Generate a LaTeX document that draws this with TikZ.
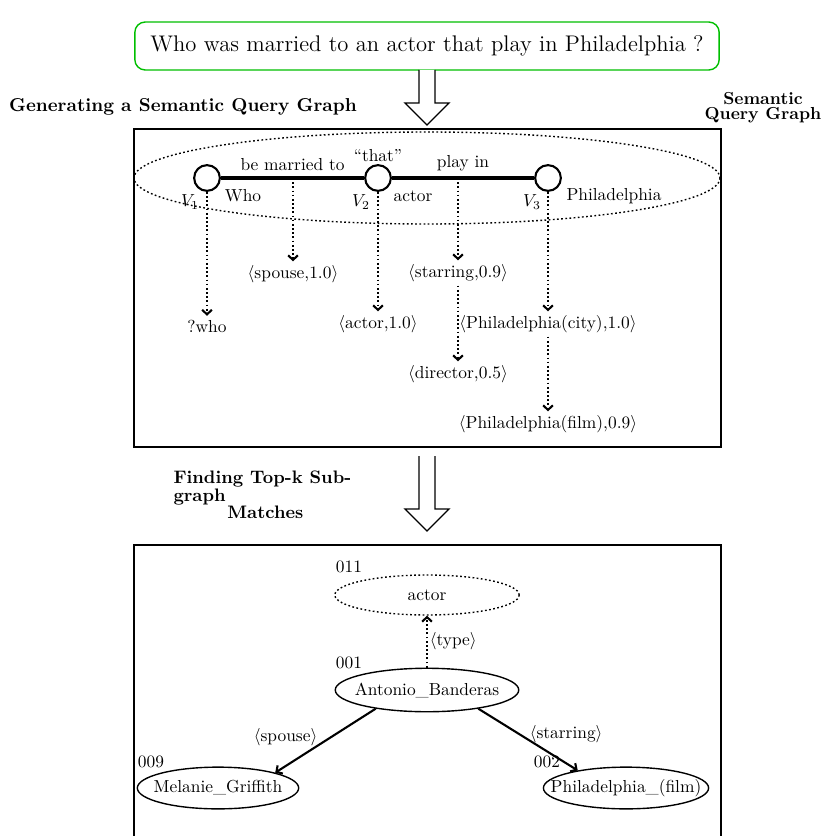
\documentclass[tikz,border=0pt]{standalone}
\usetikzlibrary{shapes.geometric,arrows.meta}

\tikzstyle{var}=[circle,draw,very thick,fill=white,inner sep=0pt,minimum size=5.2mm]
\tikzstyle{rel}=[line width=2.3pt]
\tikzstyle{dots}=[dash pattern=on 1pt off 1.4pt]
\tikzstyle{cand}=[->,very thick,dots]
\tikzstyle{ent}=[ellipse,draw,thick,inner xsep=-4.2pt,inner ysep=1pt,minimum height=24pt]
\tikzstyle{hollow}=[draw,thick,fill=white]

\begin{document}
\begin{tikzpicture}[x=0.575pt,y=-0.575pt,semithick,inner sep=2pt,>={Straight Barb[length=2.6pt,width=5.6pt]}]
\useasboundingbox (0,0) rectangle (827,836);
%\draw[help lines,step=50] (0,0) grid (827,836);
% question
\node[draw=green!75!black,thick,rounded corners=6pt,minimum width=336pt,minimum height=27.6pt,font=\fontsize{13}{15}\selectfont] (q) at (427,46) {Who was married to an actor that play in Philadelphia ?};
\draw[hollow] (419,70) -- (419,103) -- (405,103) -- (427,125) -- (449,103) -- (435,103) -- (435,70);
\node[font=\fontsize{10.75}{12}\selectfont\bfseries] (t1) at (183,107) {Generating a Semantic Query Graph};
\node[font=\fontsize{10}{8.6}\selectfont\bfseries,align=center,inner sep=0pt] (t2) at (763,108) {Semantic\\Query Graph};

% semantic query graph
\draw[thick] (134,129) rectangle (721,447);
\draw[thick,dots] (427,178) ellipse [x radius=293, y radius=46];
\node[var] (v1) at (207,178) {};
\node[var,label={[inner sep=1pt]above:``that''}] (v2) at (378,178) {};
\node[var] (v3) at (548,178) {};
\path
(v1) edge[rel] node[above=1pt] {be married to} (v2)
(v2) edge[rel] node[above=1pt] {play in} (v3);
\node (l1) at (190,202) {$V_1$};
\node (l2) at (361,202) {$V_2$};
\node (l3) at (532,202) {$V_3$};
\node (w1) at (243,196) {Who};
\node (w2) at (413,196) {actor};
\node (w3) at (614,196) {Philadelphia};
\coordinate (e1) at (293,178);
\coordinate (e2) at (458,178);
\node (who)      at (207,326) {?who};
\node (spouse)   at (293,274) {$\langle$spouse,1.0$\rangle$};
\node (actor)    at (378,324) {$\langle$actor,1.0$\rangle$};
\node (starring) at (458,273) {$\langle$starring,0.9$\rangle$};
\node (director) at (458,374) {$\langle$director,0.5$\rangle$};
\node (city)     at (548,324) {$\langle$Philadelphia(city),1.0$\rangle$};
\node (film)     at (548,424) {$\langle$Philadelphia(film),0.9$\rangle$};
\draw[cand] (v1) -- (who);
\draw[cand] (e1) -- (spouse);
\draw[cand] (v2) -- (actor);
\draw[cand] (e2) -- (starring);
\draw[cand] (starring.south -| e2) -- (director.north -| e2);
\draw[cand] (v3) -- (city);
\draw[cand] (city.south -| v3) -- (film.north -| v3);

\draw[hollow] (419,456) -- (419,509) -- (405,509) -- (427,531) -- (449,509) -- (435,509) -- (435,456);
\node[font=\fontsize{10.4}{9.2}\selectfont\bfseries,align=left,anchor=north west,inner sep=0pt] (t3) at (173,470) {Finding Top-k Sub-\\graph\\\hspace*{31pt}Matches};

% top-k matches
\draw[thick] (134,545) rectangle (721,900);
\node[ent,dots,minimum width=106pt,minimum height=23pt] (ac) at (427,595) {actor};
\node[ent,minimum height=25pt] (ab) at (427,690) {Antonio\_Banderas};
\node[ent] (mg) at (218,788) {Melanie\_Griffith};
\node[ent,inner xsep=-9.7pt] (pf) at (626,788) {Philadelphia\_(film)};
\node (n1) at (349,567) {011};
\node (n2) at (349,663) {001};
\node (n3) at (151,762) {009};
\node (n4) at (547,762) {002};
\path
(ab) edge[->,very thick,dots] node[right=-1pt] {$\langle$type$\rangle$} (ac)
(ab.200) edge[->,very thick] node[pos=0.45,left=5pt] {$\langle$spouse$\rangle$} (mg.15)
(ab.-20) edge[->,very thick] node[pos=0.42,right=3pt] {$\langle$starring$\rangle$} (pf.160);
\end{tikzpicture}
\end{document}
